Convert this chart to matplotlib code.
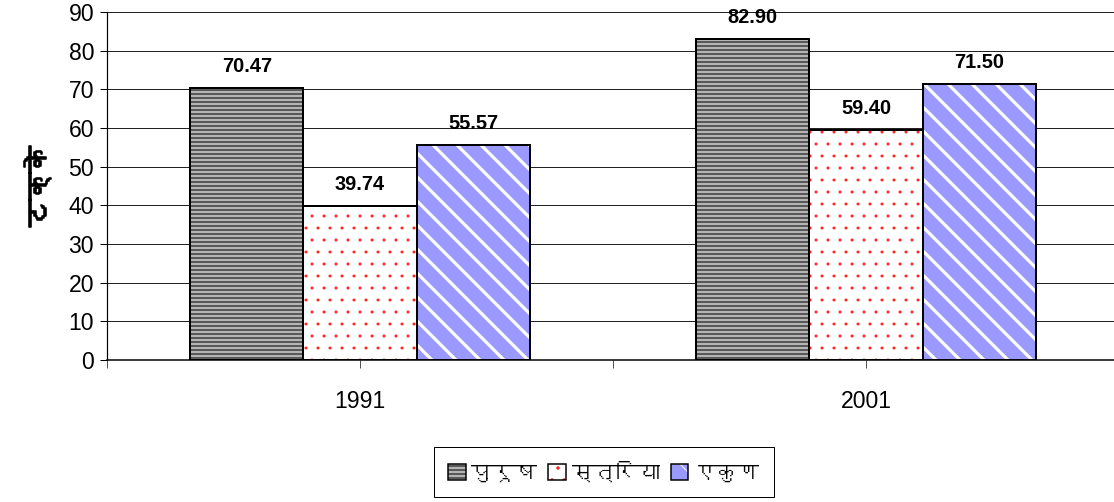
import matplotlib
matplotlib.use('Agg')
import numpy as np
import matplotlib.pyplot as plt
import matplotlib.patheffects as pe
from matplotlib import font_manager as fm
from matplotlib.ft2font import FT2Font
from matplotlib.patches import Patch
from matplotlib.legend_handler import HandlerTuple

# data
years = ['1991', '2001']
series_names = ['पुरूष', 'स्त्रिया', 'एकुण']
male = [70.47, 82.90]
female = [39.74, 59.40]
total = [55.57, 71.50]
y_label = 'टक्के'
y_ticks = list(range(0, 100, 10))


def find_devanagari_font():
    """Return the name of an installed font that has Devanagari glyphs, if any."""
    for f in fm.fontManager.ttflist:
        try:
            if 0x092A in FT2Font(f.fname).get_charmap():
                return f.name
        except Exception:
            continue
    return None


deva = find_devanagari_font()
latin = 'Liberation Sans'
deva_family = [deva, latin, 'DejaVu Sans'] if deva else [latin, 'DejaVu Sans']
plt.rcParams['font.family'] = [latin, 'DejaVu Sans']


def set_hatch_lw(patches, lw):
    for p in patches:
        if hasattr(p, 'set_hatch_linewidth'):
            p.set_hatch_linewidth(lw)


# dpi 72 so that 1 pt == 1 px
fig = plt.figure(figsize=(1114 / 72, 502 / 72), dpi=72)
ax = fig.add_axes([107 / 1114, 1 - 360 / 502, 1012 / 1114, 348 / 502])

styles = [
    dict(face='#b4b4b4', hatch='---', hcolor='black', hlw=1.0),
    dict(face='white', hatch='.', hcolor='#ff2020', hlw=0.5),
    dict(face='#9999ff', hatch='\\', hcolor='white', hlw=3.2),
]
values = [male, female, total]
x = np.arange(len(years))
w = 0.2235

handles = []
for i, (vals, st) in enumerate(zip(values, styles)):
    pos = x + (i - 1) * w
    with plt.rc_context({'hatch.linewidth': st['hlw']}):
        bars = ax.bar(pos, vals, w, color=st['face'], edgecolor=st['hcolor'],
                      hatch=st['hatch'], linewidth=0, zorder=2)
        set_hatch_lw(bars, st['hlw'])
        proxy = Patch(facecolor=st['face'], edgecolor=st['hcolor'],
                      hatch=st['hatch'], linewidth=0)
        set_hatch_lw([proxy], st['hlw'])
    ax.bar(pos, vals, w, fill=False, edgecolor='black', linewidth=2, zorder=3)
    frame = Patch(fill=False, edgecolor='black', linewidth=1.5)
    handles.append((proxy, frame))
    for xp, v in zip(pos, vals):
        ax.annotate(f'{v:.2f}', (xp, v), xytext=(0, 12), textcoords='offset points',
                    ha='center', va='bottom', fontsize=20, fontweight='bold', zorder=4)

ax.set_ylim(0, 90)
ax.set_xlim(-0.5, 1.5)
ax.set_yticks(y_ticks)
ax.tick_params(axis='y', labelsize=23, length=7, width=1, direction='out', pad=6)
ax.set_xticks(x)
ax.set_xticklabels(years)
ax.set_xticks([-0.5, 0.5, 1.5], minor=True)
ax.tick_params(axis='x', which='both', labelsize=23, length=8, width=1,
               color='#555555', pad=22)
ax.yaxis.grid(True, color='#222222', linewidth=1, zorder=0)
ax.set_axisbelow(True)
for side in ['top', 'right']:
    ax.spines[side].set_visible(False)
ax.spines['left'].set_linewidth(1.2)
ax.spines['bottom'].set_linewidth(1.5)

ylab = ax.set_ylabel(y_label, fontsize=27, fontweight='bold', family=deva_family,
                     labelpad=18)
ylab.set_path_effects([pe.withStroke(linewidth=1.6, foreground='black')])

leg = fig.legend(handles, series_names, handler_map={tuple: HandlerTuple(ndivide=1)},
                 loc='center', bbox_to_anchor=(604 / 1114, 1 - 472 / 502), ncol=3,
                 frameon=True, fancybox=False, edgecolor='black', framealpha=1,
                 prop=fm.FontProperties(family=deva_family, size=22),
                 handlelength=0.8, handleheight=0.8, handletextpad=0.25,
                 columnspacing=0.5, borderpad=0.65, borderaxespad=0)
leg.get_frame().set_linewidth(1)

fig.savefig('out.png', dpi=72)
